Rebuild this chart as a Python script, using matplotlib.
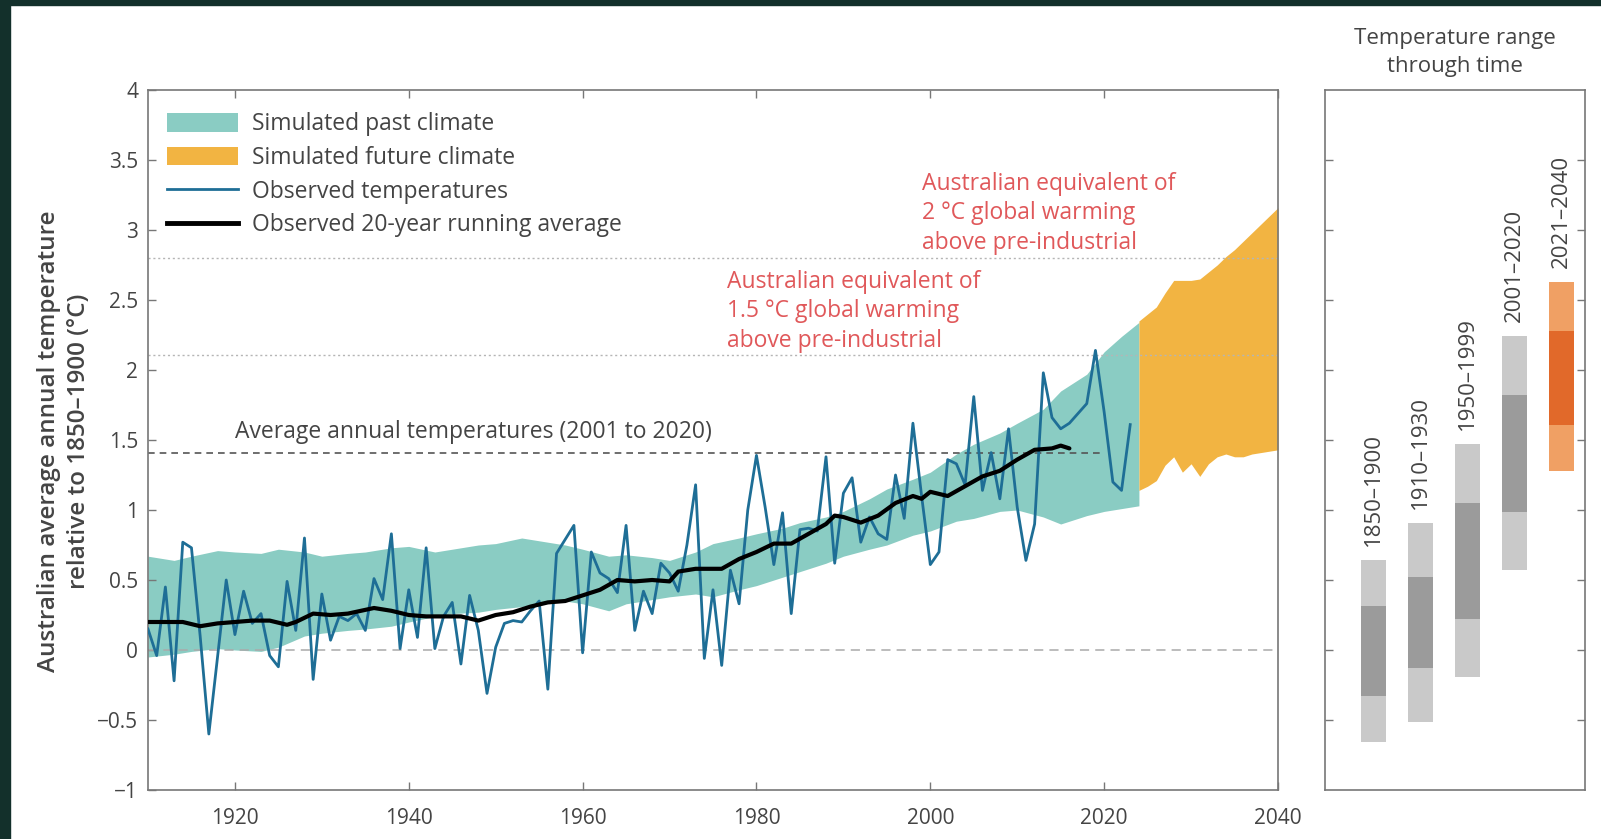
import matplotlib
matplotlib.use("Agg")
import matplotlib.pyplot as plt
from matplotlib.patches import Patch, Rectangle
from matplotlib.lines import Line2D
import numpy as np

plt.rcParams['font.family'] = ['Open Sans', 'DejaVu Sans']

# observed annual temperature, relative to 1850-1900
obs_years = list(range(1910, 2024))
obs_temp = [0.15, -0.04, 0.45, -0.22, 0.77, 0.73, 0.10, -0.60, -0.05, 0.50,
            0.11, 0.42, 0.19, 0.26, -0.04, -0.12, 0.49, 0.14, 0.80, -0.21,
            0.40, 0.07, 0.24, 0.21, 0.26, 0.14, 0.51, 0.36, 0.83, 0.01,
            0.43, 0.09, 0.73, 0.01, 0.24, 0.34, -0.10, 0.39, 0.14, -0.31,
            0.02, 0.19, 0.21, 0.20, 0.28, 0.35, -0.28, 0.69, 0.79, 0.89,
            -0.02, 0.70, 0.55, 0.51, 0.41, 0.89, 0.14, 0.42, 0.26, 0.62,
            0.55, 0.42, 0.75, 1.18, -0.06, 0.43, -0.11, 0.57, 0.33, 1.00,
            1.39, 1.02, 0.61, 0.98, 0.26, 0.86, 0.87, 0.85, 1.38, 0.62,
            1.12, 1.23, 0.77, 0.95, 0.83, 0.79, 1.25, 0.94, 1.62, 1.10,
            0.61, 0.70, 1.36, 1.33, 1.18, 1.81, 1.14, 1.41, 1.08, 1.58,
            1.02, 0.64, 0.90, 1.98, 1.66, 1.58, 1.62, 1.69, 1.76, 2.14,
            1.70, 1.20, 1.14, 1.61]

# 20-year running average
run_years = [1910, 1912, 1914, 1916, 1918, 1920, 1922, 1924, 1926, 1927, 1929,
             1931, 1933, 1936, 1938, 1940, 1942, 1944, 1946, 1948, 1950, 1952,
             1954, 1956, 1958, 1960, 1962, 1964, 1966, 1968, 1970, 1971, 1973,
             1976, 1978, 1980, 1982, 1984, 1986, 1988, 1989, 1990, 1992, 1994,
             1996, 1998, 1999, 2000, 2002, 2004, 2006, 2008, 2010, 2012, 2014,
             2015, 2016]
run_temp = [0.20, 0.20, 0.20, 0.17, 0.19, 0.20, 0.21, 0.21, 0.18, 0.20, 0.26,
            0.25, 0.26, 0.30, 0.28, 0.25, 0.24, 0.24, 0.24, 0.21, 0.25, 0.27,
            0.31, 0.34, 0.35, 0.39, 0.43, 0.50, 0.49, 0.50, 0.49, 0.56, 0.58,
            0.58, 0.65, 0.70, 0.76, 0.76, 0.83, 0.90, 0.96, 0.95, 0.91, 0.96,
            1.05, 1.10, 1.08, 1.13, 1.10, 1.17, 1.24, 1.28, 1.36, 1.43, 1.44,
            1.46, 1.44]

# simulated past climate range
past_years = [1910, 1913, 1915, 1918, 1920, 1923, 1925, 1928, 1930, 1933, 1935,
              1938, 1940, 1943, 1945, 1948, 1950, 1953, 1955, 1958, 1960, 1963,
              1965, 1968, 1970, 1973, 1975, 1978, 1980, 1983, 1985, 1988, 1990,
              1993, 1995, 1998, 2000, 2003, 2005, 2008, 2010, 2013, 2015, 2018,
              2020, 2022, 2024]
past_hi = [0.67, 0.64, 0.67, 0.71, 0.70, 0.69, 0.72, 0.70, 0.67, 0.69, 0.70,
           0.73, 0.74, 0.70, 0.72, 0.75, 0.76, 0.80, 0.78, 0.75, 0.72, 0.67,
           0.68, 0.66, 0.64, 0.70, 0.76, 0.80, 0.83, 0.87, 0.91, 0.95, 0.99,
           1.08, 1.15, 1.22, 1.27, 1.40, 1.47, 1.55, 1.62, 1.72, 1.85, 1.97,
           2.13, 2.24, 2.34]
past_lo = [-0.05, -0.03, -0.01, 0.01, 0.00, -0.01, 0.02, 0.10, 0.12, 0.14, 0.15,
           0.17, 0.20, 0.24, 0.26, 0.27, 0.29, 0.31, 0.33, 0.35, 0.33, 0.28,
           0.33, 0.36, 0.38, 0.40, 0.38, 0.43, 0.46, 0.52, 0.56, 0.62, 0.67,
           0.72, 0.75, 0.82, 0.85, 0.92, 0.94, 0.99, 1.00, 0.95, 0.90, 0.96,
           0.99, 1.01, 1.03]

# simulated future climate range
fut_years = list(range(2024, 2041))
fut_hi = [2.35, 2.40, 2.45, 2.55, 2.64, 2.64, 2.64, 2.65, 2.70, 2.75, 2.81,
          2.86, 2.92, 2.98, 3.04, 3.10, 3.16]
fut_lo = [1.14, 1.17, 1.21, 1.32, 1.38, 1.27, 1.33, 1.24, 1.33, 1.38, 1.40,
          1.38, 1.38, 1.40, 1.41, 1.42, 1.43]

avg_2001_2020 = 1.41
warm_15 = 2.11
warm_20 = 2.80

# temperature range through time panel
periods = ['1850–1900', '1910–1930', '1950–1999', '2001–2020', '2021–2040']
range_lo = [-0.656, -0.515, -0.19, 0.57, 1.28]
range_q1 = [-0.33, -0.13, 0.22, 0.985, 1.61]
range_q3 = [0.317, 0.52, 1.05, 1.82, 2.28]
range_hi = [0.64, 0.91, 1.47, 2.24, 2.63]

TEXT = '#444444'
RED = '#e0585a'
TEAL = '#8accc3'
ORANGE = '#f2b442'
BLUE = '#1e6e96'
FS = 16.5

fig = plt.figure(figsize=(16.01, 8.39), dpi=100)
fig.patch.set_facecolor('white')
fig.patches.append(Rectangle((0, 0), 10 / 1601, 1, transform=fig.transFigure,
                             color='#13302b', zorder=10))
fig.patches.append(Rectangle((0, 1 - 5 / 839), 1, 5 / 839, transform=fig.transFigure,
                             color='#13302b', zorder=10))

ax = fig.add_axes([148 / 1601, 49 / 839, 1130 / 1601, 700 / 839])
ax.fill_between(past_years, past_lo, past_hi, color=TEAL, lw=0, zorder=1)
ax.fill_between(fut_years, fut_lo, fut_hi, color=ORANGE, lw=0, zorder=1)

ax.axhline(0, color='#aaaaaa', lw=1.1, ls=(0, (6, 4)), zorder=2)
ax.axhline(warm_15, color='#b5b5b5', lw=1.0, ls=(0, (1.5, 2)), zorder=2)
ax.axhline(warm_20, color='#b5b5b5', lw=1.0, ls=(0, (1.5, 2)), zorder=2)
ax.plot([1910, 2020], [avg_2001_2020] * 2, color='#555555', lw=1.2,
        ls=(0, (4, 3)), zorder=2)

ax.plot(obs_years, obs_temp, color=BLUE, lw=2.0, zorder=3)
ax.plot(run_years, run_temp, color='black', lw=3.0, zorder=4,
        solid_capstyle='round')

ax.set_xlim(1910, 2040)
ax.set_ylim(-1, 4)
ax.set_xticks(range(1920, 2041, 20))
yt = np.arange(-1, 4.01, 0.5)
ax.set_yticks(yt)
ax.set_yticklabels([('%g' % v).replace('-', '\u2212') for v in yt])
ax.tick_params(direction='in', length=6, width=1, color='#777777',
               labelsize=15, labelcolor=TEXT, top=True)
ax.tick_params(axis='x', pad=13)
ax.tick_params(axis='y', pad=7)
for s in ax.spines.values():
    s.set_color('#777777')
    s.set_linewidth(1.2)

fig.text(64 / 1601, 0.474,
         'Australian average annual temperature\nrelative to 1850\u20131900 (\u00b0C)',
         rotation=90, ha='center', va='center', multialignment='center',
         fontsize=17.5, fontweight='semibold', color=TEXT, linespacing=1.35)

ax.text(1920, 1.56, 'Average annual temperatures (2001 to 2020)',
        fontsize=FS, color=TEXT, va='center', ha='left')
ax.text(1976.6, 2.42, 'Australian equivalent of\n1.5 \u00b0C global warming\nabove pre-industrial',
        fontsize=FS, color=RED, va='center', ha='left', linespacing=1.3)
ax.text(1999.0, 3.12, 'Australian equivalent of\n2 \u00b0C global warming\nabove pre-industrial',
        fontsize=FS, color=RED, va='center', ha='left', linespacing=1.3)

handles = [Patch(color=TEAL, lw=0), Patch(color=ORANGE, lw=0),
           Line2D([], [], color=BLUE, lw=2), Line2D([], [], color='black', lw=3.5)]
labels = ['Simulated past climate', 'Simulated future climate',
          'Observed temperatures', 'Observed 20-year running average']
ax.legend(handles, labels, loc='upper left', bbox_to_anchor=(0.0168, 0.968),
          frameon=False, fontsize=FS, labelcolor=TEXT, handlelength=3.1,
          handleheight=0.85, handletextpad=0.6, labelspacing=0.42,
          borderaxespad=0, borderpad=0)

# right panel
ax2 = fig.add_axes([1325 / 1601, 49 / 839, 260 / 1601, 700 / 839])
ax2.set_xlim(0, 1)
ax2.set_ylim(-1, 4)
xpos = 0.186 + 0.181 * np.arange(len(periods))
light = ['#c9c9c9'] * 4 + ['#f0a064']
dark = ['#9b9b9b'] * 4 + ['#e1692a']
lo = np.array(range_lo)
hi = np.array(range_hi)
q1 = np.array(range_q1)
q3 = np.array(range_q3)
ax2.bar(xpos, hi - lo, bottom=lo, width=0.096, color=light, lw=0)
ax2.bar(xpos, q3 - q1, bottom=q1, width=0.096, color=dark, lw=0)
for x, top, lab in zip(xpos, hi, periods):
    ax2.text(x, top + 0.1, lab, rotation=90, ha='center', va='bottom',
             fontsize=16, color=TEXT)
ax2.set_xticks([])
ax2.set_yticks(np.arange(-0.5, 3.51, 0.5))
ax2.tick_params(direction='in', length=6, width=1, color='#777777',
                labelleft=False, right=True)
for s in ax2.spines.values():
    s.set_color('#777777')
    s.set_linewidth(1.2)
ax2.text(0.5, 1.054, 'Temperature range\nthrough time', transform=ax2.transAxes,
         ha='center', va='center', fontsize=16, color=TEXT, linespacing=1.45)

fig.savefig('out.png', dpi=100, facecolor=fig.get_facecolor())
